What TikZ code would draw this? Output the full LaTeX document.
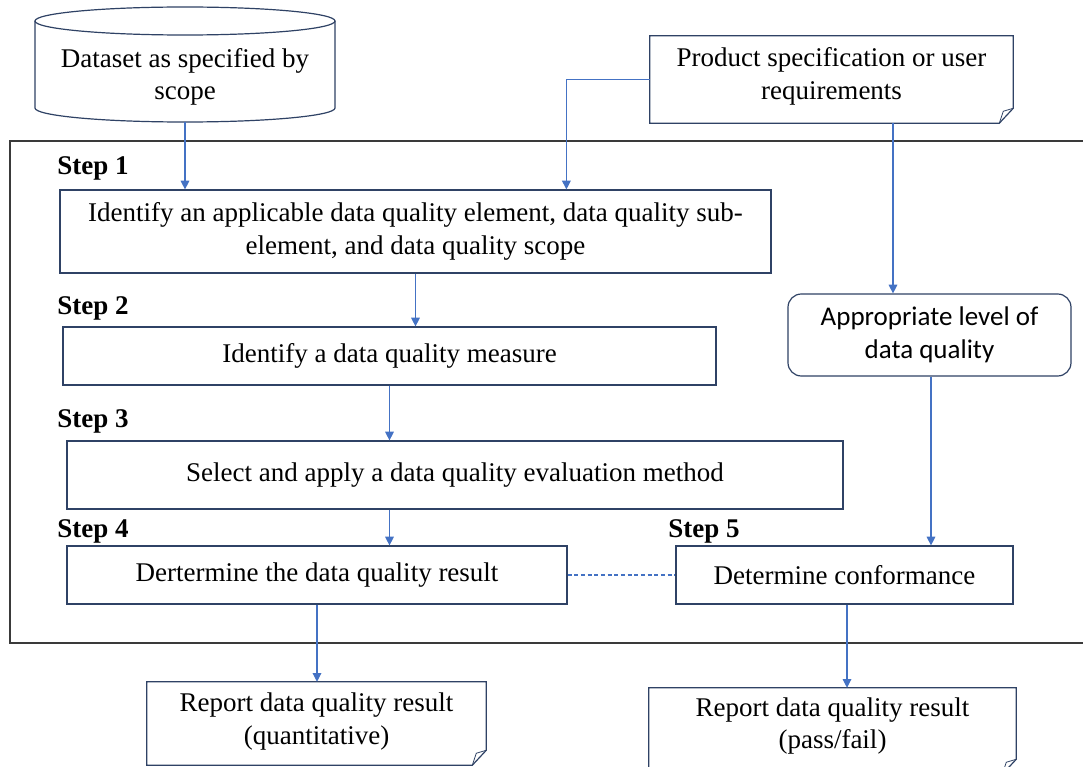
\documentclass[tikz,border=0pt]{standalone}
\usepackage{fontspec}
\setmainfont{Liberation Serif}
\newfontfamily\calibri{Carlito}
\usetikzlibrary{arrows.meta,calc}
\definecolor{boxline}{HTML}{2F4265}
\definecolor{link}{HTML}{4472C4}
\definecolor{framegray}{HTML}{3A3A3A}

\begin{document}
\begin{tikzpicture}[x=0.75pt,y=-0.75pt,
  every node/.style={font=\fontsize{20.25}{24.5}\selectfont, inner sep=0pt},
  sz/.style 2 args={minimum width=#1*0.75pt, minimum height=#2*0.75pt},
  stepbox/.style={draw=boxline, line width=0.9pt, rectangle},
  shell/.style={rectangle},
  roundbox/.style={draw=boxline, line width=0.9pt, rectangle, rounded corners=10pt,
    font=\calibri\fontsize{20.25}{24.5}\selectfont, align=center},
  outline/.style={draw=boxline, line width=0.9pt},
  steplab/.style={font=\bfseries\fontsize{20.25}{24.5}\selectfont, anchor=base west},
  conn/.style={draw=link, line width=0.8pt, -{Triangle[length=6.5pt,width=6.5pt]}},
  dashlink/.style={draw=link, line width=0.8pt, dashed, dash pattern=on 3pt off 2pt},
]
\clip (0,0) rectangle (1083,767);
\fill[white] (0,0) rectangle (1083,767);

% outer frame of the evaluation procedure
\draw[framegray, line width=0.9pt] (1100,141) -- (10,141) -- (10,643) -- (1100,643);

% dataset cylinder
\draw[outline] (185,21) ellipse [x radius=150, y radius=14];
\draw[outline] (35,21) -- (35,108) arc[start angle=180, end angle=0, x radius=150, y radius=14] -- (335,21);
\node[align=center] (data) at (185,77) {Dataset as specified by\\scope};
\coordinate (dbot) at (185,122);

% product specification (document shape)
\node[shell, sz={363}{87}] (prod) at (831.5,79.5) {};
\draw[outline] (prod.north west) -- (prod.north east) -- ($(prod.south east)+(0,-15)$)
  -- ($(prod.south east)+(-14,0)$) -- (prod.south west) -- cycle;
\draw[outline, line width=0.6pt] ($(prod.south east)+(0,-15)$) -- ($(prod.south east)+(-10,-12)$) -- ($(prod.south east)+(-14,0)$);
\node[align=center] (prodtxt) at ($(prod.center)+(0,-3)$) {Product specification or user\\requirements};

% steps
\node[steplab] (l1) at (57,175) {Step 1};
\node[stepbox, sz={711}{83}, align=center] (s1) at (415.5,231.5)
  {Identify an applicable data quality element, data quality sub-\\element, and data quality scope};

\node[steplab] (l2) at (57,314) {Step 2};
\node[stepbox, sz={653}{58}] (s2) at (389.5,356) {Identify a data quality measure};

\node[steplab] (l3) at (57,427) {Step 3};
\node[stepbox, sz={776}{68}] (s3) at (455,475) {Select and apply a data quality evaluation method};

\node[steplab] (l4) at (57,537) {Step 4};
\node[stepbox, sz={500}{58}] (s4) at (317,575) {Dertermine the data quality result};

\node[steplab] (l5) at (668,537) {Step 5};
\node[stepbox, sz={337}{58}] (s5) at (844.5,575) {Determine conformance};

% appropriate level of quality
\node[roundbox, sz={283}{82}] (appr) at (929.5,335) {Appropriate level of\\data quality};

% reports (document shapes)
\node[shell, sz={339}{83}] (r1) at (316.5,723.5) {};
\draw[outline] (r1.north west) -- (r1.north east) -- ($(r1.south east)+(0,-15)$)
  -- ($(r1.south east)+(-14,0)$) -- (r1.south west) -- cycle;
\draw[outline, line width=0.6pt] ($(r1.south east)+(0,-15)$) -- ($(r1.south east)+(-10,-12)$) -- ($(r1.south east)+(-14,0)$);
\node[align=center] (r1txt) at ($(r1.center)+(0,-2)$) {Report data quality result\\(quantitative)};

\node[shell, sz={367}{86}] (r2) at (832.5,731) {};
\draw[outline] (r2.north west) -- (r2.north east) -- ($(r2.south east)+(0,-15)$)
  -- ($(r2.south east)+(-14,0)$) -- (r2.south west) -- cycle;
\draw[outline, line width=0.6pt] ($(r2.south east)+(0,-15)$) -- ($(r2.south east)+(-10,-12)$) -- ($(r2.south east)+(-14,0)$);
\node[align=center] (r2txt) at ($(r2.center)+(0,-5)$) {Report data quality result\\(pass/fail)};

% connector anchor points
\coordinate (prodout) at ($(prod.south)+(61.5,0)$);
\coordinate (s1in) at ($(s1.north west)+(507,0)$);
\coordinate (approut) at ($(appr.south)+(1.5,0)$);
\coordinate (s5out) at ($(s5.south)+(2.5,0)$);

% connectors
\draw[conn] (dbot) -- (dbot |- s1.north);
\draw[conn] (prod.west) -| (s1in);
\draw[conn] (prodout) -- (prodout |- appr.north);
\draw[conn] (s1.south) -- (s1.south |- s2.north);
\draw[conn] (s2.south) -- (s2.south |- s3.north);
\draw[conn] (s2.south |- s3.south) -- (s2.south |- s4.north);
\draw[conn] (approut) -- (approut |- s5.north);
\draw[conn] (s4.south) -- (s4.south |- r1.north);
\draw[conn] (s5out) -- (s5out |- r2.north);
\draw[dashlink] (s4.east) -- (s5.west);
\end{tikzpicture}
\end{document}
